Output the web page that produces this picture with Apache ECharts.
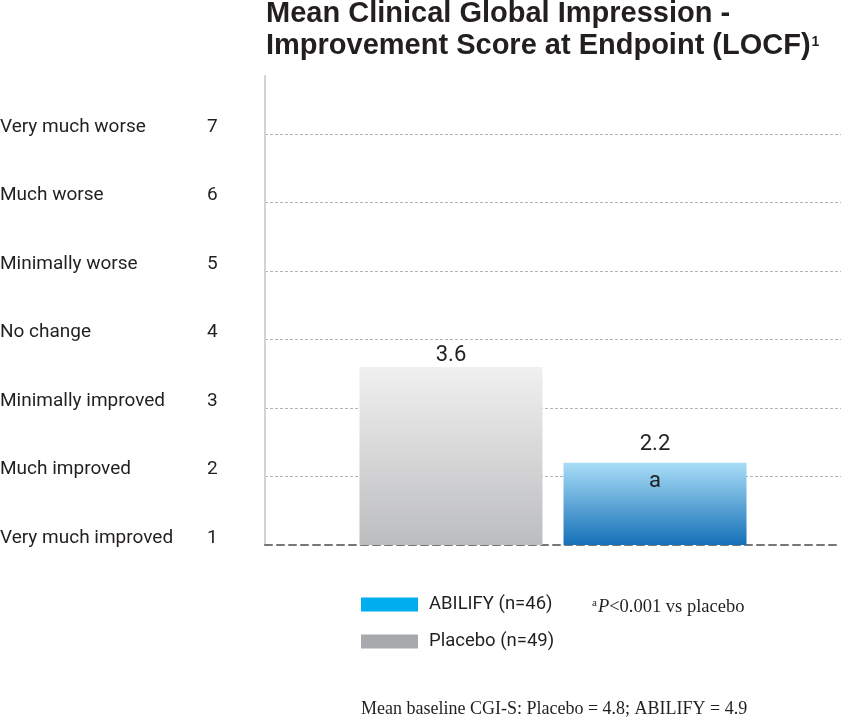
<!DOCTYPE html>
<html><head><meta charset="utf-8">
<script src="https://cdn.jsdelivr.net/npm/echarts@6/dist/echarts.min.js"></script>
<style>html,body{margin:0;padding:0;background:#fff}#c{width:841px;height:718px}</style>
</head><body><div id="c"></div>
<script>
// ---- data ----
const scoreValues = [1, 2, 3, 4, 5, 6, 7];
const scoreLabels = ['Very much improved', 'Much improved', 'Minimally improved', 'No change', 'Minimally worse', 'Much worse', 'Very much worse'];
const categories = ['Endpoint'];
const placeboName = 'Placebo (n=49)';
const abilifyName = 'ABILIFY (n=46)';
const placeboValues = [3.6];
const abilifyValues = [2.2];
const significanceMark = 'a';
const titleLines = ['Mean Clinical Global Impression -', 'Improvement Score at Endpoint (LOCF)'];
const titleRef = '1';
const footnotePrefix = 'a';
const footnoteP = 'P';
const footnoteRest = '<0.001 vs placebo';
const baselineNote = 'Mean baseline CGI-S: Placebo = 4.8; ABILIFY = 4.9';

// ---- chart ----
const chart = echarts.init(document.getElementById('c'), null, {renderer: 'canvas'});
const dark = '#231f20';
const sans = 'Roboto, "Open Sans", sans-serif';
const serif = '"Liberation Serif", "DejaVu Serif", serif';
const titleFont = '"Liberation Sans", Arial, sans-serif';

const option = {
  animation: false,
  backgroundColor: '#fff',
  title: [
    {
      text: titleLines[0] + '\n' + titleLines[1] + '{s|' + titleRef + '}',
      left: 266, top: -2, padding: 0,
      textStyle: {
        fontFamily: titleFont,
        fontWeight: 'bold', fontSize: 29, lineHeight: 32, color: dark,
        rich: {
          s: {fontFamily: titleFont, fontWeight: 'bold', fontSize: 14, color: dark, padding: [0, 0, 7, 1]}
        }
      }
    },
    {
      text: '{a|' + footnotePrefix + '}{p|' + footnoteP + '}{r|' + footnoteRest + '}',
      left: 592, top: 598, padding: 0,
      textStyle: {
        fontWeight: 'normal',
        rich: {
          a: {fontFamily: serif, fontWeight: 'normal', fontSize: 11, color: dark, padding: [0, 1, 8, 0]},
          p: {fontFamily: serif, fontWeight: 'normal', fontStyle: 'italic', fontSize: 18.5, color: dark},
          r: {fontFamily: serif, fontWeight: 'normal', fontSize: 18.5, color: dark}
        }
      }
    },
    {
      text: baselineNote,
      left: 361, top: 700, padding: 0,
      textStyle: {fontFamily: serif, fontSize: 18, fontWeight: 'normal', color: dark}
    }
  ],
  legend: {
    orient: 'vertical',
    left: 361, top: 595, padding: 0,
    itemWidth: 57, itemHeight: 14, itemGap: 18,
    icon: 'rect',
    selectedMode: false,
    textStyle: {fontFamily: sans, fontSize: 18.5, color: dark, padding: [0, 0, 0, 6]},
    data: [
      {name: abilifyName, itemStyle: {color: '#00aeef'}},
      {name: placeboName, itemStyle: {color: '#a7a9ac'}}
    ]
  },
  grid: {left: 265, right: 0, top: 76, bottom: 173, outerBoundsMode: 'none', containLabel: false},
  xAxis: {
    type: 'category',
    data: categories,
    axisLine: {show: true, lineStyle: {color: '#777', width: 2, type: [7, 5]}},
    axisTick: {show: false},
    axisLabel: {show: false},
    splitLine: {show: false}
  },
  yAxis: {
    type: 'value',
    min: 1, max: 7.85, interval: 1,
    axisLine: {show: true, lineStyle: {color: '#d3d3d3', width: 2}},
    axisTick: {show: false},
    splitLine: {show: true, showMinLine: false, showMaxLine: false, lineStyle: {color: '#b3b3b3', width: 1, type: [3, 2]}},
    axisLabel: {
      show: true, align: 'left', margin: 265, showMaxLabel: false,
      padding: [0, 0, 14, 0],
      formatter: function (v) {
        const i = scoreValues.indexOf(v);
        return i < 0 ? '' : '{t|' + scoreLabels[i] + '}{n|' + v + '}';
      },
      rich: {
        t: {width: 207, fontFamily: sans, fontSize: 19, color: dark},
        n: {fontFamily: sans, fontSize: 19, color: dark}
      }
    }
  },
  series: [
    {
      name: placeboName, type: 'bar', data: placeboValues,
      barWidth: 183, barGap: '11.5%',
      itemStyle: {color: new echarts.graphic.LinearGradient(0, 0, 0, 1, [{offset: 0, color: '#f0f0f0'}, {offset: 1, color: '#bcbdbf'}])},
      label: {show: true, position: 'top', distance: 0, fontFamily: sans, fontSize: 22, color: dark,
        formatter: p => p.value.toFixed(1)}
    },
    {
      name: abilifyName, type: 'bar', data: abilifyValues,
      barWidth: 183, barGap: '11.5%',
      itemStyle: {color: new echarts.graphic.LinearGradient(0, 0, 0, 1, [{offset: 0, color: '#a9ddf7'}, {offset: 1, color: '#1570b8'}])},
      label: {show: true, position: 'insideTop', distance: -36,
        formatter: p => '{v|' + p.value.toFixed(1) + '}\n{a|' + significanceMark + '}',
        rich: {
          v: {fontFamily: sans, fontSize: 22, lineHeight: 36, color: dark},
          a: {fontFamily: sans, fontSize: 22, lineHeight: 37, color: dark}
        }
      }
    }
  ]
};
chart.setOption(option);
</script>
</body></html>
